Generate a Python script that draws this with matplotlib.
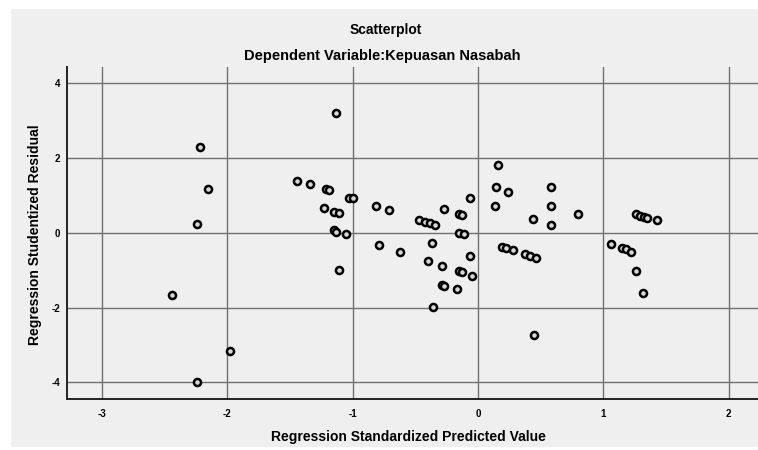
import matplotlib
matplotlib.use('Agg')
import matplotlib.pyplot as plt
from matplotlib.patches import Rectangle

############### Data
pred_vals = [-2.22, -2.15, -2.24, -2.44, -1.98, -2.24,
             -1.135, -1.44, -1.34, -1.21, -1.19, -1.03, -1.00, -1.23, -1.15, -1.11,
             -1.15, -1.13, -1.05, -1.11,
             -0.816, -0.71, -0.79, -0.62,
             -0.47, -0.42, -0.38, -0.345, -0.37, -0.40, -0.29, -0.36,
             -0.27, -0.15, -0.125, -0.066, -0.15, -0.11, -0.064, -0.15, -0.125,
             -0.048, -0.29, -0.27, -0.165,
             0.16, 0.14, 0.24, 0.135, 0.44, 0.19, 0.22, 0.28, 0.375, 0.415, 0.46, 0.45,
             0.585, 0.585, 0.80, 0.585,
             1.26, 1.29, 1.32, 1.35, 1.425, 1.06, 1.15, 1.18, 1.22, 1.26, 1.316]
resid_vals = [2.29, 1.16, 0.22, -1.66, -3.16, -3.99,
              3.20, 1.39, 1.31, 1.16, 1.14, 0.94, 0.93, 0.67, 0.55, 0.52,
              0.06, 0.03, -0.04, -1.00,
              0.72, 0.60, -0.34, -0.52,
              0.34, 0.29, 0.25, 0.21, -0.28, -0.76, -0.88, -1.99,
              0.62, 0.49, 0.47, 0.92, -0.02, -0.04, -0.61, -1.02, -1.04,
              -1.15, -1.39, -1.41, -1.51,
              1.81, 1.21, 1.08, 0.72, 0.36, -0.38, -0.42, -0.47, -0.58, -0.62, -0.68, -2.74,
              1.21, 0.71, 0.50, 0.21,
              0.49, 0.45, 0.43, 0.40, 0.33, -0.31, -0.40, -0.44, -0.51, -1.03, -1.60]
x_ticks = [-3, -2, -1, 0, 1, 2]
y_ticks = [-4, -2, 0, 2, 4]

title = 'Scatterplot'
subtitle = 'Dependent Variable:Kepuasan Nasabah'
x_label = 'Regression Standardized Predicted Value'
y_label = 'Regression Studentized Residual'

############### Styling
plt.rcParams['axes.unicode_minus'] = False
narrow = ['Liberation Sans Narrow', 'Liberation Sans', 'DejaVu Sans']
panel_color = '#efefef'
grid_color = '#707070'

fig = plt.figure(figsize=(7.58, 4.5), dpi=100)
fig.patch.set_facecolor('white')
# grey SPSS chart panel
fig.patches.append(Rectangle((11 / 758, 3 / 450), 747 / 758, 438 / 450,
                             transform=fig.transFigure, facecolor=panel_color,
                             edgecolor='none', zorder=-10))

ax = fig.add_axes([67 / 758, 1 - 399.3 / 450, 691 / 758, 332.6 / 450])
ax.set_facecolor(panel_color)

ax.scatter(pred_vals, resid_vals, s=26, facecolors='#d8d8d8', edgecolors='black',
           linewidths=1.8, zorder=3)

ax.set_xlim(-3.277, 2.233)
ax.set_ylim(-4.449, 4.433)
ax.set_xticks(x_ticks)
ax.set_yticks(y_ticks)
ax.set_xticklabels([str(t) for t in x_ticks], family=narrow, fontsize=7, fontweight='bold')
ax.set_yticklabels([str(t) for t in y_ticks], family=narrow, fontsize=7, fontweight='bold')
ax.tick_params(length=0)
ax.tick_params(axis='x', pad=7)
ax.tick_params(axis='y', pad=5)

ax.grid(True, color=grid_color, linewidth=1.0, zorder=1)
ax.set_axisbelow(True)
for side in ['top', 'right']:
    ax.spines[side].set_visible(False)
for side in ['left', 'bottom']:
    ax.spines[side].set_color('#222222')
    ax.spines[side].set_linewidth(1.4)

fig.text(386 / 758, 1 - 30 / 450, title, ha='center', va='center',
         family=narrow, fontsize=10, fontweight='bold')
fig.text(382 / 758, 1 - 56 / 450, subtitle, ha='center', va='center',
         family=narrow, fontsize=10.5, fontweight='bold')
fig.text(408 / 758, 1 - 437 / 450, x_label, ha='center', va='center',
         family=narrow, fontsize=10, fontweight='bold')
fig.text(35 / 758, 1 - 235 / 450, y_label, ha='center', va='center', rotation=90,
         family=narrow, fontsize=10, fontweight='bold')

fig.savefig('out.png', dpi=100, facecolor='white')
